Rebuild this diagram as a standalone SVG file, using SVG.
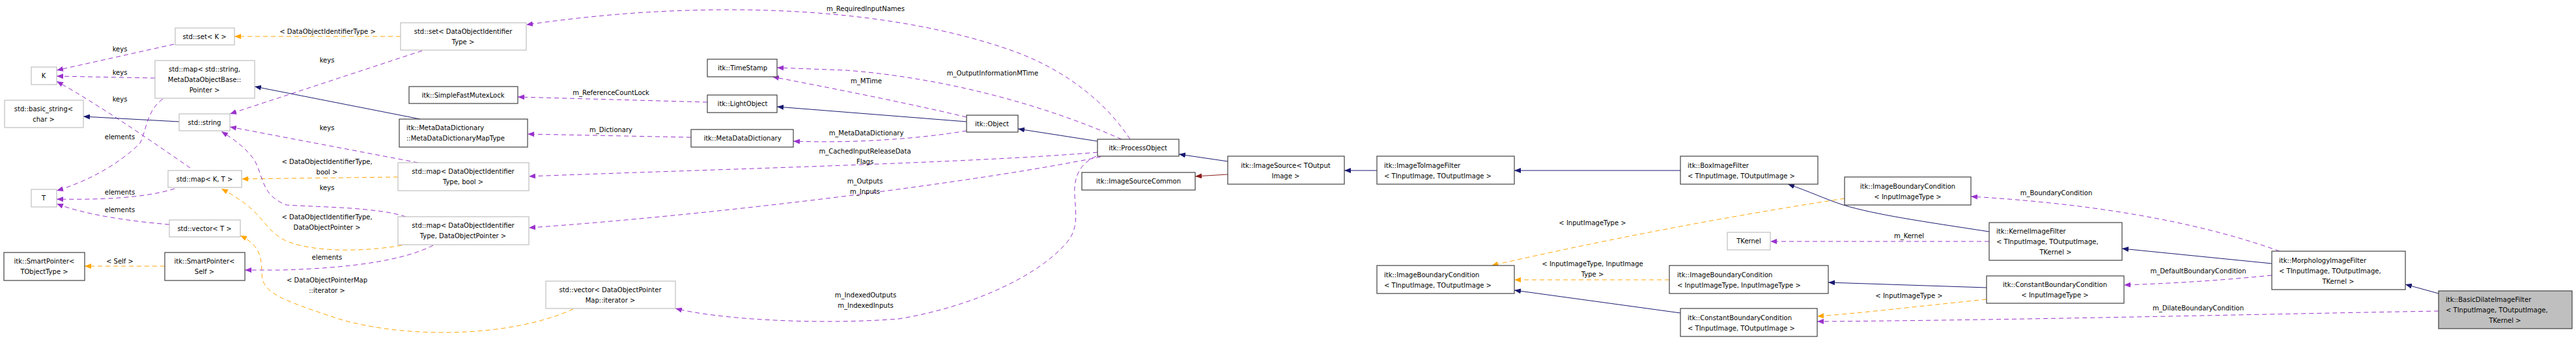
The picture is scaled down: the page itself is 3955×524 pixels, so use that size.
<svg xmlns="http://www.w3.org/2000/svg" width="3955" height="524" viewBox="0 0 3955 524">
<style>
text{font-family:"DejaVu Sans","Liberation Sans",sans-serif;font-size:10px;fill:#000}
.c{text-anchor:middle}
.nb rect{fill:#fff;stroke:#404040;stroke-width:1.2}
.ng rect{fill:#fff;stroke:#bfbfbf;stroke-width:1.2}
.p{fill:none;stroke:#9a32cd;stroke-dasharray:7,5}
.o{fill:none;stroke:#ffa500;stroke-dasharray:7,5}
.b{fill:none;stroke:#191970}
.r{fill:none;stroke:#8b1a1a}
</style>
<defs>
<marker id="ap" markerWidth="11" markerHeight="8" refX="10" refY="4" orient="auto" markerUnits="userSpaceOnUse"><path d="M0,0L10,4L0,8z" fill="#9a32cd"/></marker>
<marker id="ao" markerWidth="11" markerHeight="8" refX="10" refY="4" orient="auto" markerUnits="userSpaceOnUse"><path d="M0,0L10,4L0,8z" fill="#ffa500"/></marker>
<marker id="ab" markerWidth="11" markerHeight="8" refX="10" refY="4" orient="auto" markerUnits="userSpaceOnUse"><path d="M0,0L10,4L0,8z" fill="#191970"/></marker>
<marker id="ar" markerWidth="11" markerHeight="8" refX="10" refY="4" orient="auto" markerUnits="userSpaceOnUse"><path d="M0,0L10,4L0,8z" fill="#8b1a1a"/></marker>
</defs>
<rect width="3955" height="524" fill="#fff"/>
<g id="edges">
<path class="p" marker-end="url(#ap)" d="M267,68 L87,108"/>
<path class="p" marker-end="url(#ap)" d="M238,120 L87,117"/>
<path class="p" marker-end="url(#ap)" d="M292,258 C230,215 150,160 87,125"/>
<path class="b" marker-end="url(#ab)" d="M275,187 L128,179"/>
<path class="p" marker-end="url(#ap)" d="M250,152 C225,170 225,200 215,220 C180,255 130,280 87,293"/>
<path class="p" marker-end="url(#ap)" d="M268,290 C220,305 150,307 87,306"/>
<path class="p" marker-end="url(#ap)" d="M260,345 C200,340 130,330 87,313"/>
<path class="o" marker-end="url(#ao)" d="M253,409 L130,409"/>
<path class="o" marker-end="url(#ao)" d="M615,56 L360,56"/>
<path class="o" marker-end="url(#ao)" d="M611,272 L371,275"/>
<path class="o" marker-end="url(#ao)" d="M617,377 C540,390 460,385 430,365 C400,345 405,325 340,290"/>
<path class="o" marker-end="url(#ao)" d="M880,475 C780,520 620,520 520,490 C430,460 402,450 402,420 C402,390 395,375 369,362"/>
<path class="p" marker-end="url(#ap)" d="M648,78 L353,175"/>
<path class="p" marker-end="url(#ap)" d="M642,250 L353,195"/>
<path class="p" marker-end="url(#ap)" d="M623,333 C580,318 480,318 440,315 C400,300 405,270 390,245 C375,225 360,215 340,202"/>
<path class="b" marker-end="url(#ab)" d="M645,183 L391,133"/>
<path class="p" marker-end="url(#ap)" d="M665,377 C620,400 540,412 430,415 L376,415"/>
<path class="p" marker-end="url(#ap)" d="M1061,211 L810,206"/>
<path class="p" marker-end="url(#ap)" d="M1086,157 L795,149"/>
<path class="b" marker-end="url(#ab)" d="M1484,187 L1193,164"/>
<path class="p" marker-end="url(#ap)" d="M1484,180 C1400,160 1300,140 1186,118"/>
<path class="p" marker-end="url(#ap)" d="M1484,201 C1400,215 1300,220 1218,217"/>
<path class="b" marker-end="url(#ab)" d="M1685,217 L1563,198"/>
<path class="p" marker-end="url(#ap)" d="M1722,214 C1600,160 1450,120 1300,108 L1193,104"/>
<path class="p" marker-end="url(#ap)" d="M1735,214 C1700,160 1640,110 1560,80 C1450,40 1300,15 1120,15 C1000,15 900,25 808,38"/>
<path class="p" marker-end="url(#ap)" d="M1685,234 C1500,250 1100,260 812,271"/>
<path class="p" marker-end="url(#ap)" d="M1690,241 C1500,280 1100,330 812,350"/>
<path class="p" marker-end="url(#ap)" d="M1683,240 C1660,250 1648,270 1650,300 C1652,330 1655,350 1640,370 C1600,420 1500,470 1380,490 C1250,500 1100,490 1037,474"/>
<path class="b" marker-end="url(#ab)" d="M1885,248 L1810,237"/>
<path class="r" marker-end="url(#ar)" d="M1885,268 L1835,271"/>
<path class="b" marker-end="url(#ab)" d="M2114,262 L2064,262"/>
<path class="b" marker-end="url(#ab)" d="M2580,262 L2325,262"/>
<path class="b" marker-end="url(#ab)" d="M3054,356 C2950,340 2880,330 2830,315 C2800,305 2780,295 2745,283"/>
<path class="o" marker-end="url(#ao)" d="M2832,305 C2700,325 2500,360 2290,408"/>
<path class="o" marker-end="url(#ao)" d="M2563,430 L2325,430"/>
<path class="b" marker-end="url(#ab)" d="M2580,481 L2325,446"/>
<path class="b" marker-end="url(#ab)" d="M3050,442 L2807,434"/>
<path class="o" marker-end="url(#ao)" d="M3050,460 C2950,470 2850,482 2790,486"/>
<path class="p" marker-end="url(#ap)" d="M3054,371 L2718,371"/>
<path class="b" marker-end="url(#ab)" d="M3488,405 L3258,382"/>
<path class="p" marker-end="url(#ap)" d="M3500,386 C3400,350 3250,315 3026,302"/>
<path class="p" marker-end="url(#ap)" d="M3488,423 C3400,432 3320,436 3261,438"/>
<path class="b" marker-end="url(#ab)" d="M3744,451 L3693,437"/>
<path class="p" marker-end="url(#ap)" d="M3744,478 C3500,482 3100,492 2790,494"/>
</g>
<g id="edge-labels">
<text class="c" x="184" y="79">keys</text>
<text class="c" x="184" y="115">keys</text>
<text class="c" x="184" y="156">keys</text>
<text class="c" x="184" y="214">elements</text>
<text class="c" x="184" y="299">elements</text>
<text class="c" x="184" y="326">elements</text>
<text class="c" x="184" y="405">&lt; Self &gt;</text>
<text class="c" x="503" y="52">&lt; DataObjectIdentifierType &gt;</text>
<text class="c" x="502" y="96">keys</text>
<text class="c" x="502" y="200">keys</text>
<text class="c" x="502" y="252">&lt; DataObjectIdentifierType,</text>
<text class="c" x="502" y="268">bool &gt;</text>
<text class="c" x="502" y="292">keys</text>
<text class="c" x="502" y="337">&lt; DataObjectIdentifierType,</text>
<text class="c" x="502" y="353">DataObjectPointer &gt;</text>
<text class="c" x="502" y="399">elements</text>
<text class="c" x="502" y="434">&lt; DataObjectPointerMap</text>
<text class="c" x="502" y="450">::iterator &gt;</text>
<text class="c" x="938" y="146">m_ReferenceCountLock</text>
<text class="c" x="938" y="203">m_Dictionary</text>
<text class="c" x="1329" y="17">m_RequiredInputNames</text>
<text class="c" x="1330" y="128">m_MTime</text>
<text class="c" x="1524" y="116">m_OutputInformationMTime</text>
<text class="c" x="1330" y="208">m_MetaDataDictionary</text>
<text class="c" x="1328" y="236">m_CachedInputReleaseData</text>
<text class="c" x="1328" y="252">Flags</text>
<text class="c" x="1328" y="282">m_Outputs</text>
<text class="c" x="1328" y="298">m_Inputs</text>
<text class="c" x="1329" y="457">m_IndexedOutputs</text>
<text class="c" x="1329" y="473">m_IndexedInputs</text>
<text class="c" x="2445" y="346">&lt; InputImageType &gt;</text>
<text class="c" x="2445" y="409">&lt; InputImageType, InputImage</text>
<text class="c" x="2445" y="425">Type &gt;</text>
<text class="c" x="2931" y="366">m_Kernel</text>
<text class="c" x="2931" y="458">&lt; InputImageType &gt;</text>
<text class="c" x="3157" y="300">m_BoundaryCondition</text>
<text class="c" x="3375" y="420">m_DefaultBoundaryCondition</text>
<text class="c" x="3375" y="477">m_DilateBoundaryCondition</text>
</g>
<g id="n-setK" class="ng"><rect x="269" y="43" width="91" height="26"/><text class="c" x="314" y="60">std::set&lt; K &gt;</text></g>
<g id="n-K" class="ng"><rect x="48" y="103" width="39" height="27"/><text class="c" x="67" y="120">K</text></g>
<g id="n-mapStr" class="ng"><rect x="238" y="93" width="153" height="58"/><text class="c" x="314" y="110">std::map&lt; std::string,</text><text class="c" x="314" y="126">MetaDataObjectBase::</text><text class="c" x="314" y="142">Pointer &gt;</text></g>
<g id="n-basicstr" class="ng"><rect x="7" y="154" width="121" height="42"/><text class="c" x="67" y="171">std::basic_string&lt;</text><text class="c" x="67" y="187">char &gt;</text></g>
<g id="n-string" class="ng"><rect x="275" y="175" width="78" height="26"/><text class="c" x="314" y="192">std::string</text></g>
<g id="n-mapKT" class="ng"><rect x="258" y="262" width="113" height="26"/><text class="c" x="314" y="279">std::map&lt; K, T &gt;</text></g>
<g id="n-T" class="ng"><rect x="48" y="291" width="39" height="27"/><text class="c" x="67" y="308">T</text></g>
<g id="n-vecT" class="ng"><rect x="260" y="338" width="109" height="26"/><text class="c" x="314" y="355">std::vector&lt; T &gt;</text></g>
<g id="n-spTO" class="nb"><rect x="6" y="388" width="124" height="43"/><text class="c" x="68" y="405">itk::SmartPointer&lt;</text><text class="c" x="68" y="421">TObjectType &gt;</text></g>
<g id="n-spSelf" class="nb"><rect x="253" y="388" width="123" height="43"/><text class="c" x="314" y="405">itk::SmartPointer&lt;</text><text class="c" x="314" y="421">Self &gt;</text></g>
<g id="n-setDOIT" class="ng"><rect x="615" y="35" width="193" height="42"/><text class="c" x="711" y="52">std::set&lt; DataObjectIdentifier</text><text class="c" x="711" y="68">Type &gt;</text></g>
<g id="n-mutex" class="nb"><rect x="628" y="133" width="167" height="26"/><text class="c" x="711" y="150">itk::SimpleFastMutexLock</text></g>
<g id="n-mddmt" class="nb"><rect x="613" y="183" width="197" height="43"/><text x="624" y="200">itk::MetaDataDictionary</text><text x="624" y="216">::MetaDataDictionaryMapType</text></g>
<g id="n-mapBool" class="ng"><rect x="611" y="250" width="201" height="43"/><text class="c" x="711" y="267">std::map&lt; DataObjectIdentifier</text><text class="c" x="711" y="283">Type, bool &gt;</text></g>
<g id="n-mapDOP" class="ng"><rect x="611" y="333" width="201" height="43"/><text class="c" x="711" y="350">std::map&lt; DataObjectIdentifier</text><text class="c" x="711" y="366">Type, DataObjectPointer &gt;</text></g>
<g id="n-vecIter" class="ng"><rect x="838" y="432" width="199" height="42"/><text class="c" x="937" y="449">std::vector&lt; DataObjectPointer</text><text class="c" x="937" y="465">Map::iterator &gt;</text></g>
<g id="n-timestamp" class="nb"><rect x="1086" y="91" width="107" height="27"/><text class="c" x="1140" y="108">itk::TimeStamp</text></g>
<g id="n-light" class="nb"><rect x="1086" y="146" width="107" height="27"/><text class="c" x="1140" y="163">itk::LightObject</text></g>
<g id="n-mdd" class="nb"><rect x="1061" y="199" width="157" height="27"/><text class="c" x="1140" y="216">itk::MetaDataDictionary</text></g>
<g id="n-object" class="nb"><rect x="1484" y="177" width="79" height="26"/><text class="c" x="1523" y="194">itk::Object</text></g>
<g id="n-process" class="nb"><rect x="1685" y="214" width="125" height="26"/><text class="c" x="1747" y="231">itk::ProcessObject</text></g>
<g id="n-isc" class="nb"><rect x="1661" y="265" width="174" height="27"/><text class="c" x="1748" y="282">itk::ImageSourceCommon</text></g>
<g id="n-imgsrc" class="nb"><rect x="1885" y="240" width="179" height="43"/><text class="c" x="1974" y="258">itk::ImageSource&lt; TOutput</text><text class="c" x="1974" y="274">Image &gt;</text></g>
<g id="n-i2i" class="nb"><rect x="2114" y="240" width="211" height="43"/><text x="2125" y="258">itk::ImageToImageFilter</text><text x="2125" y="274">&lt; TInputImage, TOutputImage &gt;</text></g>
<g id="n-ibcTT" class="nb"><rect x="2114" y="408" width="211" height="43"/><text x="2125" y="426">itk::ImageBoundaryCondition</text><text x="2125" y="442">&lt; TInputImage, TOutputImage &gt;</text></g>
<g id="n-box" class="nb"><rect x="2580" y="240" width="211" height="43"/><text x="2591" y="258">itk::BoxImageFilter</text><text x="2591" y="274">&lt; TInputImage, TOutputImage &gt;</text></g>
<g id="n-ibcII" class="nb"><rect x="2563" y="408" width="244" height="43"/><text x="2575" y="426">itk::ImageBoundaryCondition</text><text x="2575" y="442">&lt; InputImageType, InputImageType &gt;</text></g>
<g id="n-cbcTT" class="nb"><rect x="2580" y="474" width="210" height="43"/><text x="2591" y="492">itk::ConstantBoundaryCondition</text><text x="2591" y="508">&lt; TInputImage, TOutputImage &gt;</text></g>
<g id="n-ibcI" class="nb"><rect x="2832" y="272" width="194" height="43"/><text class="c" x="2929" y="290">itk::ImageBoundaryCondition</text><text class="c" x="2929" y="306">&lt; InputImageType &gt;</text></g>
<g id="n-tkernel" class="ng"><rect x="2652" y="357" width="66" height="27"/><text class="c" x="2685" y="374">TKernel</text></g>
<g id="n-kernel" class="nb"><rect x="3054" y="342" width="204" height="58"/><text x="3065" y="359">itk::KernelImageFilter</text><text x="3065" y="375">&lt; TInputImage, TOutputImage,</text><text class="c" x="3156" y="391">TKernel &gt;</text></g>
<g id="n-cbcI" class="nb"><rect x="3050" y="424" width="211" height="42"/><text class="c" x="3155" y="441">itk::ConstantBoundaryCondition</text><text class="c" x="3155" y="457">&lt; InputImageType &gt;</text></g>
<g id="n-morph" class="nb"><rect x="3488" y="386" width="205" height="59"/><text x="3499" y="404">itk::MorphologyImageFilter</text><text x="3499" y="420">&lt; TInputImage, TOutputImage,</text><text class="c" x="3590" y="436">TKernel &gt;</text></g>
<g id="n-dilate" class="nb"><rect x="3744" y="447" width="205" height="58" style="fill:#bfbfbf"/><text x="3755" y="464">itk::BasicDilateImageFilter</text><text x="3755" y="480">&lt; TInputImage, TOutputImage,</text><text class="c" x="3846" y="496">TKernel &gt;</text></g>
</svg>
